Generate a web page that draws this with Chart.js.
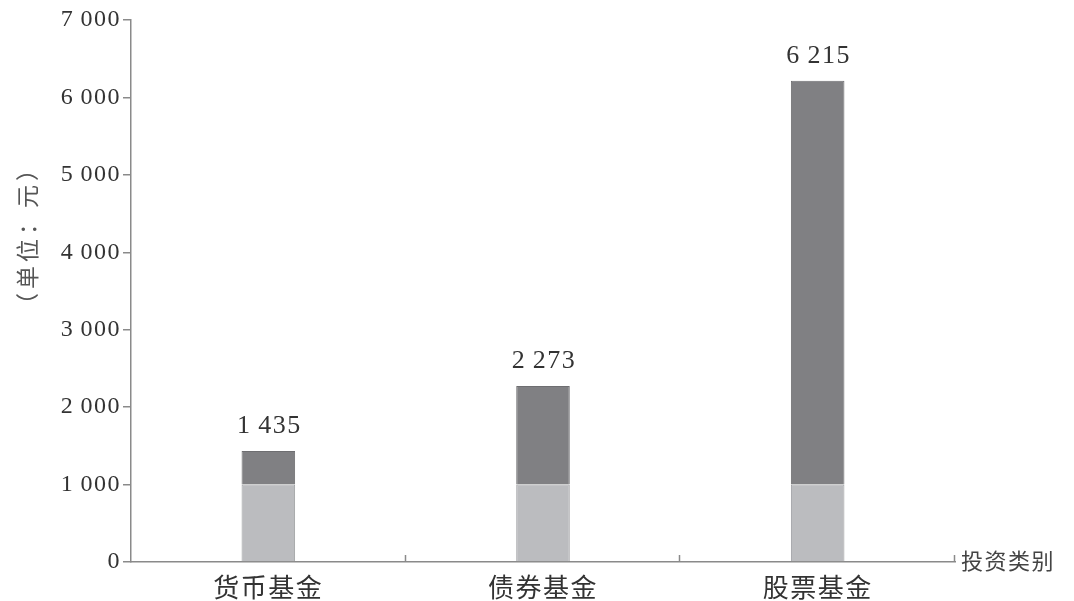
<!DOCTYPE html>
<html>
<head>
<meta charset="utf-8">
<script src="https://cdn.jsdelivr.net/npm/chart.js@4"></script>
<style>
  html, body { margin: 0; padding: 0; background: #fff; }
  #wrap { width: 1074px; height: 601px; }
</style>
</head>
<body>
<div id="wrap"><canvas id="chart"></canvas></div>
<script>
const categories = ['货币基金', '债券基金', '股票基金'];
const baseValues = [1000, 1000, 1000];
const extraValues = [435, 1273, 5215];
const yTicks = [0, 1000, 2000, 3000, 4000, 5000, 6000, 7000];
const yTitle = '（单位：元）';
const xTitle = '投资类别';

const serif = '"Liberation Serif", "DejaVu Serif", serif';
const cjk = '"Noto Sans CJK SC", "Noto Sans", sans-serif';
const axisColor = '#8a8a8a';

// thousands split by a thin space, as in the printed figure
function fmt(v) {
  return String(v).replace(/\B(?=(\d{3})+(?!\d))/g, '\u2009');
}

const spacing = {
  id: 'spacing',
  beforeDraw(chart) { chart.ctx.letterSpacing = '1.5px'; }
};

// totals on top, axis titles, small inward ticks on x axis
const decor = {
  id: 'decor',
  afterDatasetsDraw(chart) {
    const ctx = chart.ctx;
    const area = chart.chartArea;
    const x = chart.scales.x;
    const top = chart.getDatasetMeta(1);
    ctx.save();
    ctx.letterSpacing = '1.5px';
    ctx.fillStyle = '#333';
    ctx.font = '26px ' + serif;
    ctx.textAlign = 'center';
    ctx.textBaseline = 'alphabetic';
    top.data.forEach((bar, i) => {
      ctx.fillText(fmt(baseValues[i] + extraValues[i]), bar.x + 1, bar.y - 18);
    });

    // category boundary ticks pointing up
    ctx.strokeStyle = axisColor;
    ctx.lineWidth = 1.5;
    const step = categories.length > 1 ? x.getPixelForTick(1) - x.getPixelForTick(0) : area.right - area.left;
    for (let i = 0; i < categories.length; i++) {
      const px = Math.round(x.getPixelForTick(i) + step / 2) - 0.5;
      ctx.beginPath();
      ctx.moveTo(px, area.bottom);
      ctx.lineTo(px, area.bottom - 7);
      ctx.stroke();
    }

    ctx.fillStyle = '#444';
    ctx.font = '22px ' + cjk;
    ctx.textAlign = 'left';
    ctx.textBaseline = 'middle';
    ctx.fillText(xTitle, area.right + 6, area.bottom - 1);

    ctx.translate(27, 237);
    ctx.rotate(-Math.PI / 2);
    ctx.letterSpacing = '4px';
    ctx.textAlign = 'center';
    ctx.font = '23px ' + cjk;
    ctx.fillStyle = '#555';
    ctx.fillText(yTitle, 2, 0);
    ctx.restore();
  }
};

new Chart(document.getElementById('chart'), {
  type: 'bar',
  data: {
    labels: categories,
    datasets: [
      { label: 'base', data: baseValues, backgroundColor: '#bbbcbf', borderColor: '#9d9ea1', borderWidth: 1 },
      { label: 'extra', data: extraValues, backgroundColor: '#808083', borderColor: '#6e6e71', borderWidth: 1 }
    ]
  },
  options: {
    responsive: true,
    maintainAspectRatio: false,
    animation: false,
    layout: { padding: { top: 20, right: 119, left: 0, bottom: 0 } },
    datasets: { bar: { barPercentage: 0.195, categoryPercentage: 1 } },
    plugins: { legend: { display: false }, tooltip: { enabled: false } },
    scales: {
      x: {
        stacked: true,
        grid: { display: false },
        border: { color: axisColor, width: 1.5 },
        ticks: { color: '#333', font: { family: cjk, size: 26 }, padding: 2 },
        afterFit(s) { s.height = 39; }
      },
      y: {
        stacked: true,
        min: 0,
        max: 7000,
        afterBuildTicks(s) { s.ticks = yTicks.map(v => ({ value: v })); },
        grid: { drawOnChartArea: false, tickLength: 8, color: axisColor, lineWidth: 1.5 },
        border: { color: axisColor, width: 1.5 },
        ticks: { color: '#333', font: { family: serif, size: 24 }, padding: 2, callback: v => fmt(v) },
        afterFit(s) { s.width = 131; }
      }
    }
  },
  plugins: [spacing, decor]
});
</script>
</body>
</html>
